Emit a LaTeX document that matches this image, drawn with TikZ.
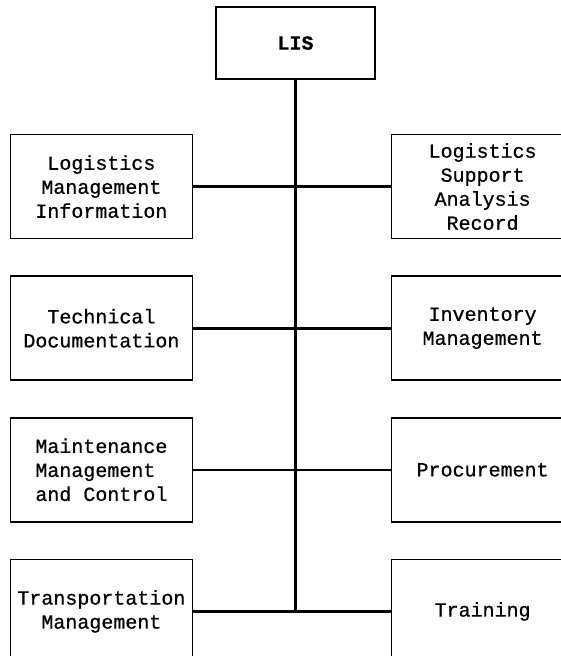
\documentclass[tikz,border=0pt]{standalone}
\usepackage{fontspec}
\newfontfamily\typewriter[FakeBold=0.7]{Liberation Mono}
\usepackage{tikz}
\usetikzlibrary{positioning}
\tikzstyle{head} = [rectangle, draw=black, line width=1.6pt, fill=none, text=black, text centered, font=\typewriter\bfseries\fontsize{20}{24}\selectfont, minimum width=159pt, minimum height=72pt, inner sep=0pt]
\tikzstyle{unit} = [rectangle, draw=black, line width=1.6pt, fill=none, text=black, align=center, font=\typewriter\fontsize{20}{24}\selectfont, minimum width=182pt, minimum height=104pt, inner sep=2pt]
\tikzstyle{tedge}  = [draw, line width=2.6pt]

\begin{document}
\begin{tikzpicture}[x=1pt, y=1pt]
\useasboundingbox (0,0) rectangle (560,-656);

% units =============================
\node[head] (lis) at (295.5,-43) {LIS};
\node[unit, below left=54pt and 22pt of lis] (lmi) {Logistics\\Management\\Information};
\node[unit, below right=54pt and 15pt of lis] (lsar) {Logistics\\Support\\Analysis\\Record};
\node[unit, below=36pt of lmi] (tdoc) {Technical\\Documentation};
\node[unit, below=36pt of lsar] (invm) {Inventory\\Management};
\node[unit, below=36pt of tdoc, align=left] (mmc) {Maintenance\\Management\\and Control};
\node[unit, below=36pt of invm] (proc) {Procurement};
\node[unit, below=36pt of mmc] (trm) {Transportation\\Management};
\node[unit, below=36pt of proc] (trn) {Training};

% edges
\path[tedge] (lis) -- (lis |- trm);
\path[tedge] (lmi) -- (lsar);
\path[tedge] (tdoc) -- (invm);
\path[tedge] (mmc) -- (proc);
\path[tedge] (trm) -- (trn);

\end{tikzpicture}
\end{document}
